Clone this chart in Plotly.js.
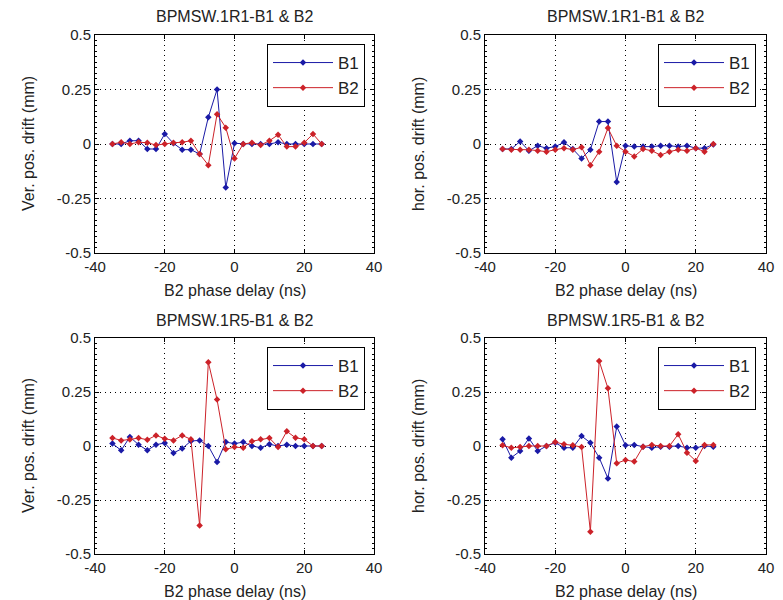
<!DOCTYPE html>
<html>
<head>
<meta charset="utf-8">
<script src="https://cdn.plot.ly/plotly-3.0.1.min.js"></script>
<style>html,body{margin:0;padding:0;background:#fff;}#chart{width:783px;height:600px;}</style>
</head>
<body>
<div id="chart"></div>
<script>
// B2 phase delay (ns)
const delay = [-35,-32.5,-30,-27.5,-25,-22.5,-20,-17.5,-15,-12.5,-10,-7.5,-5,-2.5,0,2.5,5,7.5,10,12.5,15,17.5,20,22.5,25];

// Panel titles and axis labels
const panelTitles = ["BPMSW.1R1-B1 & B2","BPMSW.1R1-B1 & B2","BPMSW.1R5-B1 & B2","BPMSW.1R5-B1 & B2"];
const yLabels = ["Ver. pos. drift (mm)","hor. pos. drift (mm)","Ver. pos. drift (mm)","hor. pos. drift (mm)"];
const xLabel = "B2 phase delay (ns)";
const seriesNames = ["B1","B2"];

// Tick labels
const xTickVals = [-40,-20,0,20,40];
const xTickText = ["-40","-20","0","20","40"];
const yTickVals = [-0.5,-0.25,0,0.25,0.5];
const yTickText = ["-0.5","-0.25","0","0.25","0.5"];

// 1R1 vertical
const r1VerB1 = [0,0,0.015,0.015,-0.023,-0.023,0.046,0.003,-0.026,-0.026,-0.046,0.123,0.25,-0.2,0.003,0,0,0,0,0.008,0,0,0,0,0];
const r1VerB2 = [0,0.008,0,0.008,0.006,-0.005,0,0.006,0.008,0.015,-0.046,-0.097,0.137,0.075,-0.066,0,0.006,-0.005,0.015,0.042,-0.012,-0.012,0.006,0.046,0];
// 1R1 horizontal
const r1HorB1 = [-0.023,-0.023,0.012,-0.031,-0.008,-0.019,-0.012,0.008,-0.023,-0.066,-0.026,0.103,0.103,-0.174,-0.008,-0.012,-0.012,-0.012,-0.008,-0.008,-0.012,-0.008,-0.019,-0.019,-0.002];
const r1HorB2 = [-0.023,-0.026,-0.026,-0.026,-0.031,-0.035,-0.026,-0.019,-0.026,-0.015,-0.097,-0.035,0.073,-0.008,-0.035,-0.057,-0.023,-0.031,-0.051,-0.035,-0.026,-0.031,-0.019,-0.035,0];
// 1R5 vertical
const r5VerB1 = [0.011,-0.02,0.042,0.006,-0.02,0.006,0.014,-0.032,-0.012,0.023,0.026,0,-0.074,0.018,0.011,0.018,0,-0.008,0.008,0,0.006,0,0,0,0];
const r5VerB2 = [0.037,0.026,0.03,0.037,0.029,0.049,0.034,0.026,0.049,0.031,-0.368,0.388,0.215,-0.015,-0.005,-0.008,0.022,0.031,0.037,-0.005,0.068,0.038,0.031,0,0];
// 1R5 horizontal
const r5HorB1 = [0.031,-0.054,-0.023,0.035,-0.023,0,0.015,-0.008,-0.008,0.046,0.015,-0.054,-0.15,0.09,0.003,0.005,-0.003,-0.008,-0.003,-0.003,0,-0.008,-0.008,0,-0.003];
const r5HorB2 = [0.003,-0.008,-0.005,0,0,0,0.018,0.008,0.003,-0.005,-0.397,0.394,0.267,-0.08,-0.065,-0.072,-0.003,0.005,0,0,0.054,-0.031,-0.069,0.005,0.005];

const panelData = [[r1VerB1,r1VerB2],[r1HorB1,r1HorB2],[r5VerB1,r5VerB2],[r5HorB1,r5HorB2]];
const colors = ["#1a1aa6","#cc2229"];

const W = 783, H = 600;
const xDom = [[95/W,374/W],[485/W,766/W]];
const yDom = [[1-253/H,1-35/H],[1-554/H,1-338/H]];
const txt = "#222";
const fam = "Liberation Sans, Arial, sans-serif";

const traces = [];
const layout = {
  width: W, height: H,
  margin: {l:0,r:0,t:0,b:0},
  paper_bgcolor: "#ffffff",
  plot_bgcolor: "#ffffff",
  font: {family: fam, size: 15, color: txt},
  showlegend: true,
  annotations: []
};

for (let p = 0; p < 4; p++) {
  const col = p % 2, row = Math.floor(p / 2);
  const sfx = p === 0 ? "" : String(p + 1);
  const legName = "legend" + sfx;
  for (let s = 0; s < 2; s++) {
    traces.push({
      type: "scatter", mode: "lines+markers",
      x: delay, y: panelData[p][s], name: seriesNames[s],
      xaxis: "x" + sfx, yaxis: "y" + sfx, legend: legName,
      line: {color: colors[s], width: 1},
      marker: {color: colors[s], size: 5, symbol: "diamond"}
    });
  }
  layout["xaxis" + sfx] = {
    domain: xDom[col], anchor: "y" + sfx, range: [-40,40],
    tickmode: "array", tickvals: xTickVals, ticktext: xTickText,
    ticks: "inside", ticklen: 4, tickcolor: "#000",
    showline: true, linecolor: "#000", linewidth: 1, mirror: "allticks",
    showgrid: true, gridcolor: "#000", griddash: "1px,4px", gridwidth: 1,
    zeroline: false,
    tickfont: {size: 15, color: txt}
  };
  layout["yaxis" + sfx] = {
    domain: yDom[row], anchor: "x" + sfx, range: [-0.5,0.5],
    tickmode: "array", tickvals: yTickVals, ticktext: yTickText,
    ticks: "inside", ticklen: 4, tickcolor: "#000",
    minor: {dtick: 0.025, ticklen: 2, tickcolor: "#000", showgrid: false, ticks: "inside"},
    showline: true, linecolor: "#000", linewidth: 1, mirror: "allticks",
    showgrid: true, gridcolor: "#000", griddash: "1px,4px", gridwidth: 1,
    zeroline: false,
    tickfont: {size: 15, color: txt}
  };
  layout[legName] = {
    x: (col === 0 ? 365 : 756) / W, xanchor: "right",
    y: (row === 0 ? 1 - 44 / H : 1 - 347 / H), yanchor: "top",
    bgcolor: "#ffffff", bordercolor: "#000", borderwidth: 1,
    font: {size: 17, color: txt},
    itemwidth: 60,
    tracegroupgap: 0
  };
  // panel title
  layout.annotations.push({
    text: panelTitles[p], xref: "paper", yref: "paper",
    x: (xDom[col][0] + xDom[col][1]) / 2,
    y: row === 0 ? 1 - 17 / H : 1 - 320 / H,
    xanchor: "center", yanchor: "middle", showarrow: false,
    font: {size: 16, color: txt}
  });
  // x-axis title
  layout.annotations.push({
    text: xLabel, xref: "paper", yref: "paper",
    x: (xDom[col][0] + xDom[col][1]) / 2,
    y: row === 0 ? 1 - 290 / H : 1 - 591 / H,
    xanchor: "center", yanchor: "middle", showarrow: false,
    font: {size: 16, color: txt}
  });
  // y-axis title
  layout.annotations.push({
    text: yLabels[p], xref: "paper", yref: "paper", textangle: -90,
    x: (col === 0 ? 28 : 418) / W,
    y: (yDom[row][0] + yDom[row][1]) / 2,
    xanchor: "center", yanchor: "middle", showarrow: false,
    font: {size: 16, color: txt}
  });
}

Plotly.newPlot("chart", traces, layout, {displayModeBar: false, staticPlot: true});
</script>
</body>
</html>
